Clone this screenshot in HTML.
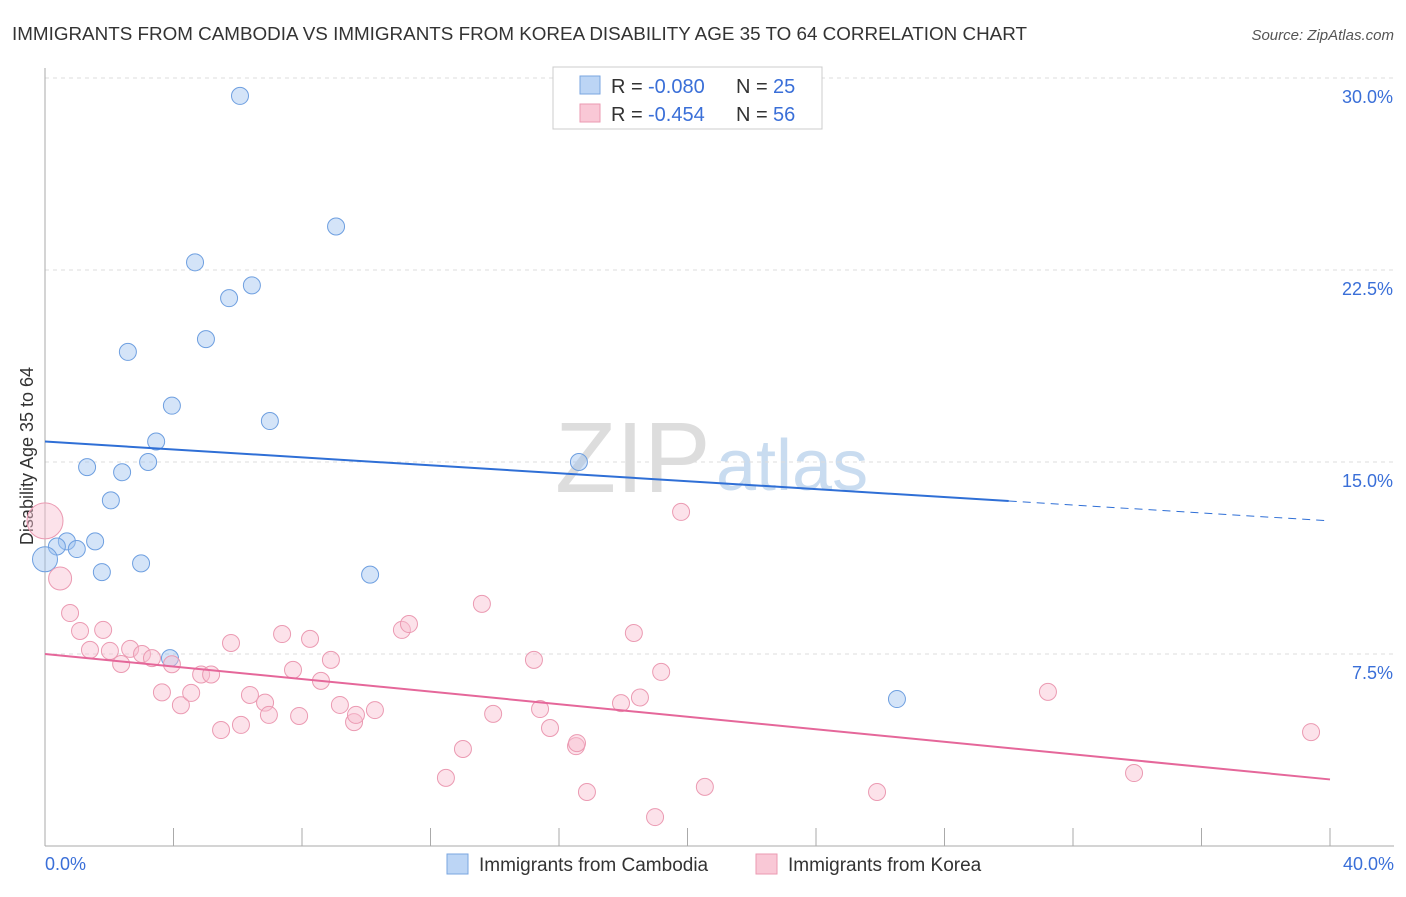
<!DOCTYPE html>
<html><head><meta charset="utf-8"><style>
body{margin:0;background:#fff;font-family:"Liberation Sans",sans-serif;}
svg text{font-family:"Liberation Sans",sans-serif;}
</style></head><body>
<svg id="c" width="1406" height="892" xmlns="http://www.w3.org/2000/svg">
<text x="12" y="40" font-size="18" fill="#333" textLength="1015" lengthAdjust="spacingAndGlyphs">IMMIGRANTS FROM CAMBODIA VS IMMIGRANTS FROM KOREA DISABILITY AGE 35 TO 64 CORRELATION CHART</text>
<text x="1394" y="40" font-size="15" fill="#555" font-style="italic" text-anchor="end">Source: ZipAtlas.com</text>
<text x="555" y="492" font-size="100" fill="#ddd" font-family="Liberation Serif">ZIP</text>
<text x="716" y="490" font-size="72" fill="#c9dcf0">atlas</text>
<text transform="translate(33,456) rotate(-90)" font-size="18" fill="#333" text-anchor="middle">Disability Age 35 to 64</text>
<g id="grid"></g><g id="marks"></g>
<g>
<rect x="553" y="67" width="269" height="62" fill="#fff" stroke="#ccc"/>
<rect x="580" y="76" width="20" height="18" fill="#bcd5f5" stroke="#7aa6e0"/>
<rect x="580" y="104" width="20" height="18" fill="#f9c8d6" stroke="#eb9ab2"/>
<text x="611" y="93" font-size="20" fill="#333">R =</text>
<text x="648" y="93" font-size="20" fill="#3a6fd8">-0.080</text>
<text x="736" y="93" font-size="20" fill="#333">N =</text>
<text x="773" y="93" font-size="20" fill="#3a6fd8">25</text>
<text x="611" y="121" font-size="20" fill="#333">R =</text>
<text x="648" y="121" font-size="20" fill="#3a6fd8">-0.454</text>
<text x="736" y="121" font-size="20" fill="#333">N =</text>
<text x="773" y="121" font-size="20" fill="#3a6fd8">56</text>
</g>
<g>
<rect x="447" y="854" width="21" height="20" fill="#bcd5f5" stroke="#7aa6e0"/>
<text x="479" y="871" font-size="19" fill="#333">Immigrants from Cambodia</text>
<rect x="756" y="854" width="21" height="20" fill="#f9c8d6" stroke="#eb9ab2"/>
<text x="788" y="871" font-size="19" fill="#333">Immigrants from Korea</text>
</g>
<text x="45" y="870" font-size="18" fill="#3a6fd8">0.0%</text>
<text x="1394" y="870" font-size="18" fill="#3a6fd8" text-anchor="end">40.0%</text>
</svg>
<script>
const yTicks=[7.5,15,22.5,30];
const yTickLabels=["7.5%","15.0%","22.5%","30.0%"];
const xTicks=[0,4,8,12,16,20,24,28,32,36,40];
const cambX=[6.07,9.06,4.67,6.44,5.73,5.01,2.58,3.95,7.0,3.46,1.31,3.21,2.4,16.62,2.05,1.56,0.68,0.37,0.99,2.99,1.77,10.12,3.89,26.52,0.0];
const cambY=[29.3,24.2,22.8,21.9,21.4,19.8,19.3,17.2,16.6,15.8,14.8,15.0,14.6,15.0,13.5,11.9,11.9,11.7,11.6,11.04,10.7,10.6,7.34,5.74,11.2];
const korX=[0.0,0.47,0.78,1.09,1.81,1.4,2.02,2.37,2.65,3.02,3.33,3.64,3.95,4.23,4.55,4.86,5.17,5.48,5.79,6.1,6.38,6.85,6.97,7.38,7.72,7.91,8.25,8.59,8.9,9.18,9.62,9.68,10.27,11.11,11.33,12.48,13.01,13.6,13.95,15.22,15.41,15.72,16.53,16.56,16.87,17.93,18.33,18.52,18.99,19.18,19.8,20.54,25.9,31.22,33.9,39.41];
const korY=[12.7,10.45,9.1,8.4,8.44,7.66,7.62,7.11,7.7,7.5,7.34,6.0,7.1,5.5,5.98,6.7,6.7,4.53,7.93,4.73,5.9,5.6,5.12,8.28,6.88,5.08,8.09,6.45,7.27,5.51,4.84,5.12,5.31,8.44,8.67,2.66,3.79,9.46,5.16,7.27,5.35,4.61,3.9,4.02,2.11,5.58,8.32,5.8,1.13,6.8,13.05,2.31,2.11,6.02,2.85,4.45];
const cambBig=[0,0,0,0,0,0,0,0,0,0,0,0,0,0,0,0,0,0,0,0,0,0,0,0,1];
const korBig=[2,1,0,0,0,0,0,0,0,0,0,0,0,0,0,0,0,0,0,0,0,0,0,0,0,0,0,0,0,0,0,0,0,0,0,0,0,0,0,0,0,0,0,0,0,0,0,0,0,0,0,0,0,0,0,0];
const cambTrend=[15.8,12.7];
const korTrend=[7.5,2.6];
const X=v=>45+v*(1285/40), Y=v=>846-v*25.6;
const NS="http://www.w3.org/2000/svg";
const grid=document.getElementById('grid'), marks=document.getElementById('marks');
function mk(t,a,p){const e=document.createElementNS(NS,t);for(const k in a)e.setAttribute(k,a[k]);p.appendChild(e);return e;}
yTicks.forEach((v,i)=>{
  const l=mk('line',{x1:45,x2:1394,y1:Y(v),y2:Y(v),stroke:'#ddd','stroke-dasharray':'4,4'},grid);
  
  
  const t=mk('text',{x:1393,y:Y(v)+25,'font-size':18,fill:'#3a6fd8','text-anchor':'end'},grid);
  t.textContent=yTickLabels[i];
  
  
});
const ax=mk('line',{x1:45,x2:45,y1:68,y2:846,stroke:'#aaa'},grid);


const bx=mk('line',{x1:45,x2:1394,y1:846,y2:846,stroke:'#aaa'},grid);


xTicks.forEach(v=>{
  const t=mk('line',{x1:X(v),x2:X(v),y1:828,y2:846,stroke:'#aaa'},grid);
  
  
});
const radii=[8.5,12.5,18];
cambX.forEach((x,i)=>{
  const c=mk('circle',{cx:X(x),cy:Y(cambY[i]),r:radii[cambBig[i]],fill:'rgba(160,196,240,0.45)',stroke:'#6e9fe0','stroke-width':1},marks);
  
  
});
korX.forEach((x,i)=>{
  const c=mk('circle',{cx:X(x),cy:Y(korY[i]),r:radii[korBig[i]]*(korBig[i]==1?0.92:1),fill:'rgba(248,190,208,0.45)',stroke:'#eb9ab2','stroke-width':1},marks);
  
  
});
const ty=(tr,x)=>tr[0]+(tr[1]-tr[0])*x/40;
const l1=mk('line',{x1:X(0),y1:Y(ty(cambTrend,0)),x2:X(30),y2:Y(ty(cambTrend,30)),stroke:'#2f6fd6','stroke-width':2},marks);


const l2=mk('line',{x1:X(30),y1:Y(ty(cambTrend,30)),x2:X(40),y2:Y(ty(cambTrend,40)),stroke:'#2f6fd6','stroke-width':1,'stroke-dasharray':'8,6'},marks);


const l3=mk('line',{x1:X(0),y1:Y(ty(korTrend,0)),x2:X(40),y2:Y(ty(korTrend,40)),stroke:'#e5679a','stroke-width':2},marks);


</script>
</body></html>
